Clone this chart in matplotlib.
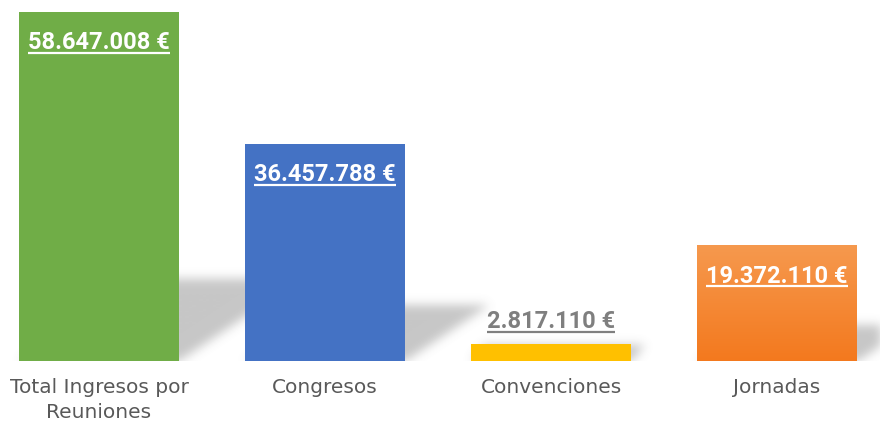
import numpy as np
import matplotlib
matplotlib.use('Agg')
import matplotlib.pyplot as plt

categories = ['Total Ingresos por\nReuniones', 'Congresos', 'Convenciones', 'Jornadas']
values = [58647008, 36457788, 2817110, 19372110]
bar_colors = ['#70AD47', '#4472C4', '#FFC000', '#F5883A']

W, H = 880, 423
fig = plt.figure(figsize=(W / 100, H / 100), dpi=100)
base_px = 361
ax = fig.add_axes([0, (H - base_px) / H, 1, base_px / H])
ax.axis('off')

unit = 226.0                      # pixels between bar centres
xlim = (-99 / unit, -99 / unit + W / unit)
ymax = values[0] * base_px / 349
px_y = ymax / base_px             # data units per pixel
bar_w = 160 / unit

# soft perspective shadows cast up and to the right
grid = np.zeros((base_px, W))
rows = np.arange(base_px)[:, None]
cols = np.arange(W)[None, :]
for i, v in enumerate(values):
    h = v / px_y
    sh = 0.2 * h + 12
    left = (i - bar_w / 2 - xlim[0]) * unit
    right = left + bar_w * unit
    shift = rows * (1.5 if h > 60 else 0.8)
    inside = (rows <= sh) & (cols >= left + shift) & (cols <= right + shift)
    grid = np.maximum(grid, inside.astype(float))
sigma = 5
k = np.exp(-0.5 * (np.arange(-15, 16) / sigma) ** 2)
k /= k.sum()
grid = np.apply_along_axis(lambda r: np.convolve(r, k, mode='same'), 1, grid)
grid = np.apply_along_axis(lambda c: np.convolve(c, k, mode='same'), 0, grid)
rgba = np.zeros((base_px, W, 4))
rgba[..., :3] = 0.45
rgba[..., 3] = grid * 0.4
ax.imshow(rgba, extent=(*xlim, 0, ymax), origin='lower', aspect='auto',
          zorder=1, interpolation='bilinear')

bars = ax.bar(range(len(values)), values, width=bar_w, color=bar_colors, zorder=2)

# orange gradient on the last bar
grad = np.linspace(0, 1, 200)[:, None]
top_c = np.array([246, 153, 78]) / 255
bot_c = np.array([243, 121, 30]) / 255
img = top_c * (1 - grad[..., None]) + bot_c * grad[..., None]
b = bars[3]
ax.imshow(img, extent=(b.get_x(), b.get_x() + b.get_width(), 0, values[3]),
          origin='upper', aspect='auto', zorder=3)

ax.set_xlim(xlim)
ax.set_ylim(0, ymax)

fig.canvas.draw()
renderer = fig.canvas.get_renderer()
for i, v in enumerate(values):
    lab = f'{v:,}'.replace(',', '.') + ' €'
    if v / px_y > 60:
        yb = v - 37 * px_y
        col = 'white'
    else:
        yb = v + 16 * px_y
        col = '#7F7F7F'
    t = ax.text(i, yb, lab, ha='center', va='baseline', fontsize=17,
                fontweight='bold', color=col, family='Roboto', zorder=5)
    bb = t.get_window_extent(renderer)
    xa, xb = ax.transData.inverted().transform([[bb.x0, 0], [bb.x1, 0]])[:, 0]
    ax.plot([xa, xb], [yb - 3.5 * px_y] * 2, color=col, lw=1.6,
            solid_capstyle='butt', zorder=5)

for i, cat in enumerate(categories):
    ax.text(i, -17 * px_y, cat, ha='center', va='top', fontsize=14.5,
            color='#595959', linespacing=1.4, family='DejaVu Sans')

fig.savefig('out.png', dpi=100)
